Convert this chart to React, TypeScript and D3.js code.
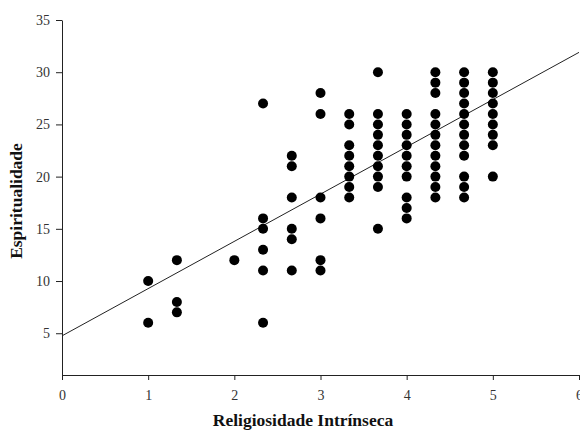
import React, { useRef, useEffect } from 'react'
import * as d3 from 'd3'

// columns of the scatter: x value and the y values stacked in it
const xValues = [1, 4 / 3, 2, 7 / 3, 8 / 3, 3, 10 / 3, 11 / 3, 4, 13 / 3, 14 / 3, 5]
const yColumns = [
  [10, 6],
  [12, 8, 7],
  [12],
  [27, 16, 15, 13, 11, 6],
  [22, 21, 18, 15, 14, 11],
  [28, 26, 18, 16, 12, 11],
  [26, 25, 23, 22, 21, 20, 19, 18],
  [30, 26, 25, 24, 23, 22, 21, 20, 19, 15],
  [26, 25, 24, 23, 22, 21, 20, 18, 17, 16],
  [30, 29, 28, 26, 25, 24, 23, 22, 21, 20, 19, 18],
  [30, 29, 28, 27, 26, 25, 24, 23, 22, 20, 19, 18],
  [30, 29, 28, 27, 26, 25, 24, 23, 20],
]
// fitted line, read at both ends
const fitX = [0, 6]
const fitY = [4.75, 31.9]
const xTicks = [0, 1, 2, 3, 4, 5, 6]
const yTicks = [5, 10, 15, 20, 25, 30, 35]

const App = () => {
  const svgRef = useRef<SVGSVGElement>(null)

  useEffect(() => {
    const svg = d3.select(svgRef.current)
    svg.selectAll('*').remove()

    const width = 580
    const height = 432
    const font = 'Liberation Serif, Times New Roman, Times, serif'

    const x = d3.scaleLinear().domain([0, 6]).range([62, 579])
    const y = d3.scaleLinear().domain([1, 35]).range([375, 20])

    svg.attr('width', width).attr('height', height)

    // eixo X
    const gx = svg
      .append('g')
      .attr('transform', `translate(0, ${y(1)})`)
      .call(
        d3.axisBottom(x).tickValues(xTicks).tickFormat(d3.format('d')).tickSize(5).tickSizeOuter(0)
      )
    gx.select('.domain').attr('stroke', '#222')
    gx.selectAll('line').attr('stroke', '#222')
    gx.selectAll('text')
      .attr('font-family', font)
      .attr('font-size', 14)
      .attr('fill', '#333')
      .attr('dy', '1.2em')

    // eixo Y
    const gy = svg
      .append('g')
      .attr('transform', `translate(${x(0)}, 0)`)
      .call(
        d3.axisLeft(y).tickValues(yTicks).tickFormat(d3.format('d')).tickSize(6).tickSizeOuter(0)
      )
    gy.select('.domain').attr('stroke', '#222')
    gy.selectAll('line').attr('stroke', '#222')
    gy.selectAll('text')
      .attr('font-family', font)
      .attr('font-size', 14)
      .attr('fill', '#333')
      .attr('x', -12)

    // linha de regressão
    const line = d3
      .line<number>()
      .x(d => x(fitX[d]))
      .y(d => y(fitY[d]))
    svg
      .append('path')
      .datum([0, 1])
      .attr('fill', 'none')
      .attr('stroke', '#222')
      .attr('stroke-width', 1)
      .attr('d', line)

    // pontos
    const points = xValues.flatMap((xv, i) => yColumns[i].map(yv => ({ x: xv, y: yv })))
    svg
      .selectAll('.dot')
      .data(points)
      .enter()
      .append('circle')
      .attr('class', 'dot')
      .attr('cx', d => x(d.x))
      .attr('cy', d => y(d.y))
      .attr('r', 5)
      .attr('fill', '#000')

    // títulos
    svg
      .append('text')
      .attr('x', 303)
      .attr('y', 426)
      .attr('text-anchor', 'middle')
      .attr('font-family', font)
      .attr('font-weight', 'bold')
      .attr('font-size', 17.5)
      .attr('fill', '#111')
      .text('Religiosidade Intrínseca')

    svg
      .append('text')
      .attr('transform', 'translate(22, 201) rotate(-90)')
      .attr('text-anchor', 'middle')
      .attr('font-family', font)
      .attr('font-weight', 'bold')
      .attr('font-size', 17.5)
      .attr('fill', '#111')
      .text('Espiritualidade')
  }, [])

  return <svg ref={svgRef} style={{ position: 'absolute', left: 0, top: 0 }}></svg>
}

export default App
